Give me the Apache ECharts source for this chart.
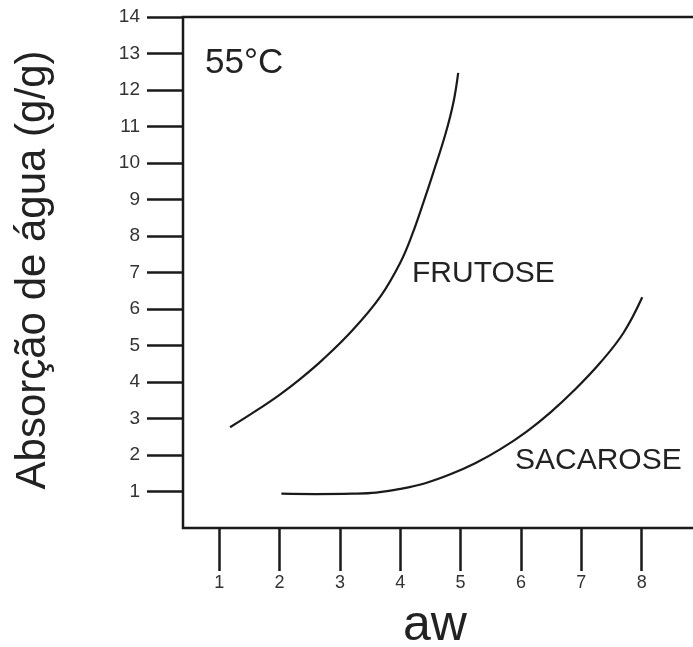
<!DOCTYPE html>
<html>
<head>
<meta charset="utf-8">
<script src="https://cdn.jsdelivr.net/npm/echarts@6/dist/echarts.min.js"></script>
<style>
  html, body { margin: 0; padding: 0; background: #fff; }
  #chart { width: 693px; height: 647px; }
</style>
</head>
<body>
<div id="chart"></div>
<script>
var xTicks = [1, 2, 3, 4, 5, 6, 7, 8]
var yTicks = [1, 2, 3, 4, 5, 6, 7, 8, 9, 10, 11, 12, 13, 14]

// aw, absorcao (g/g)
var frutose = [
  [1.18, 2.76], [1.6, 3.2], [2.0, 3.65], [2.34, 4.08], [2.72, 4.62],
  [3.22, 5.44], [3.67, 6.34], [4.0, 7.27], [4.2, 8.05], [4.38, 8.9],
  [4.55, 9.75], [4.75, 10.8], [4.88, 11.65], [4.96, 12.47]
]
var sacarose = [
  [2.03, 0.94], [2.6, 0.93], [3.2, 0.94], [3.6, 0.97], [4.0, 1.07],
  [4.4, 1.22], [4.83, 1.47], [5.25, 1.78], [5.66, 2.16], [6.1, 2.65],
  [6.49, 3.17], [6.9, 3.8], [7.32, 4.54], [7.7, 5.35], [8.01, 6.32]
]

var font = '"Liberation Sans", Arial, sans-serif'
var ink = '#1a1a1a'

var chart = echarts.init(document.getElementById('chart'))
chart.setOption({
  animation: false,
  grid: {
    show: true,
    left: 183,
    top: 17,
    width: 519,
    height: 511,
    outerBoundsMode: 'none',
    containLabel: false,
    borderColor: ink,
    borderWidth: 2.5,
    backgroundColor: 'transparent'
  },
  xAxis: {
    type: 'value',
    min: 0.4,
    max: 9,
    axisLine: { show: false },
    splitLine: { show: false },
    axisTick: {
      show: true,
      customValues: xTicks,
      length: 43,
      lineStyle: { color: ink, width: 2.5 }
    },
    axisLabel: {
      customValues: xTicks,
      margin: 46,
      fontSize: 18,
      fontFamily: font,
      color: '#333'
    }
  },
  yAxis: {
    type: 'value',
    min: 0,
    max: 14,
    axisLine: { show: false },
    splitLine: { show: false },
    axisTick: {
      show: true,
      customValues: yTicks,
      length: 36,
      lineStyle: { color: ink, width: 2.5 }
    },
    axisLabel: {
      customValues: yTicks,
      margin: 43,
      fontSize: 19,
      fontFamily: font,
      color: '#333'
    }
  },
  series: [
    {
      name: 'FRUTOSE',
      type: 'line',
      smooth: 0.4,
      showSymbol: false,
      lineStyle: { color: ink, width: 2.2 },
      data: frutose
    },
    {
      name: 'SACAROSE',
      type: 'line',
      smooth: 0.4,
      showSymbol: false,
      lineStyle: { color: ink, width: 2.2 },
      data: sacarose
    }
  ],
  graphic: [
    {
      type: 'text', x: 33, y: 270, rotation: Math.PI / 2,
      style: { text: 'Absorção de água (g/g)', font: '42px ' + font, fill: '#222', textAlign: 'center', textVerticalAlign: 'middle' }
    },
    {
      type: 'text', x: 435, y: 626,
      style: { text: 'aw', font: '50px ' + font, fill: '#222', textAlign: 'center', textVerticalAlign: 'middle' }
    },
    {
      type: 'text', x: 205, y: 63,
      style: { text: '55°C', font: '35px ' + font, fill: '#222', textAlign: 'left', textVerticalAlign: 'middle' }
    },
    {
      type: 'text', x: 412, y: 274,
      style: { text: 'FRUTOSE', font: '30px ' + font, fill: '#222', textAlign: 'left', textVerticalAlign: 'middle' }
    },
    {
      type: 'text', x: 515, y: 461,
      style: { text: 'SACAROSE', font: '30px ' + font, fill: '#222', textAlign: 'left', textVerticalAlign: 'middle' }
    }
  ]
})
</script>
</body>
</html>
